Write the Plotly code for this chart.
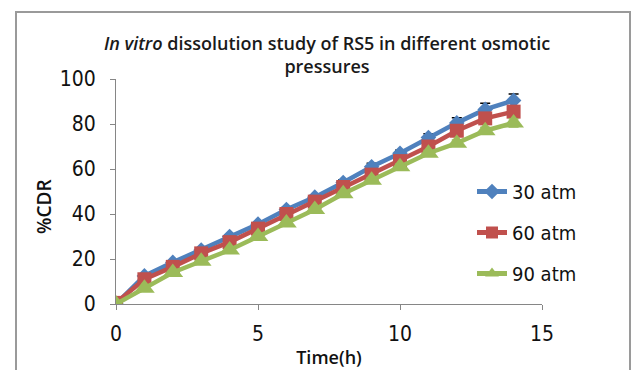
import plotly.graph_objects as go

time_h = list(range(15))
cdr_30 = [0, 12.5, 18.5, 24, 30, 35.5, 42, 47.5, 54, 61, 67, 74, 80.5, 86.5, 90.5]
err_30 = [0, 0.5, 0.6, 0.6, 0.8, 0.8, 0.9, 0.9, 1.2, 1.6, 1.3, 1.7, 2.3, 2.7, 2.8]
cdr_60 = [0.5, 11, 16.5, 22.5, 27.5, 33.5, 40, 45.5, 52, 57.5, 63.5, 70, 77, 82.5, 85.5]
err_60 = [0, 0.5, 0.5, 0.6, 0.7, 0.8, 0.8, 0.9, 1.0, 1.2, 1.3, 1.5, 1.8, 2.0, 2.2]
cdr_90 = [0, 7, 14, 19, 24, 30, 36, 42, 49, 55, 61, 67, 71.5, 77, 80.5]
err_90 = [0, 0.4, 0.5, 0.5, 0.6, 0.7, 0.8, 0.8, 0.9, 1.0, 1.1, 1.2, 1.4, 1.6, 1.8]
series_names = ["30 atm", "60 atm", "90 atm"]
x_ticks = [0, 5, 10, 15]
y_ticks = [0, 20, 40, 60, 80, 100]

W, H = 633, 370
ML, MR, MT, MB = 116, 91, 79, 66
PW, PH = W - ML - MR, H - MT - MB

def px_x(p):
    return (p - ML) / PW

def px_y(p):
    return (H - MB - p) / PH

NARROW = "DejaVu Sans Condensed, DejaVu Sans, sans-serif"
HUMAN = "Open Sans, Lato, sans-serif"

fig = go.Figure()
styles = [
    (cdr_30, err_30, "#4F81BD", "diamond", 12, "black"),
    (cdr_60, err_60, "#C0504D", "square", 14, "#C0504D"),
    (cdr_90, err_90, "#9BBB59", "triangle-up", 18, "#9BBB59"),
]
for name, (vals, errs, col, sym, sz, ecol) in zip(series_names, styles):
    fig.add_trace(go.Scatter(
        x=time_h, y=vals, name=name,
        mode="lines+markers", legendgroup=name,
        line=dict(color=col, width=4.5),
        marker=dict(color=col, symbol=sym, size=sz),
        error_y=dict(type="data", array=errs, visible=True, color=ecol,
                     thickness=1.5, width=5),
    ))

axis_col = "#868686"
fig.update_layout(
    width=W, height=H,
    margin=dict(l=ML, r=MR, t=MT, b=MB, autoexpand=False),
    paper_bgcolor="white", plot_bgcolor="white",
    showlegend=True,
    legend=dict(x=px_x(472), y=px_y(172), xanchor="left", yanchor="top",
                font=dict(family=NARROW, size=20, color="#111"),
                tracegroupgap=12, bgcolor="rgba(0,0,0,0)", itemsizing="constant"),
    title=dict(text="<i>In vitro</i> dissolution study of RS5 in different osmotic<br>pressures",
               x=327 / W, xanchor="center", y=1 - 50 / H, yanchor="top",
               font=dict(family=HUMAN, size=18, color="#1a1a1a", weight=600)),
    xaxis=dict(range=[0, 15], tickvals=x_ticks, showgrid=False, zeroline=False,
               showline=True, linecolor=axis_col, linewidth=1, automargin=False,
               ticks="outside", ticklen=5, tickcolor=axis_col,
               ticklabelstandoff=6,
               tickfont=dict(family=NARROW, size=21, color="#111"),
               title=dict(text="Time(h)", standoff=6,
                          font=dict(family=HUMAN, size=18, color="#111", weight=600))),
    yaxis=dict(range=[0, 100], tickvals=y_ticks, showgrid=False, zeroline=False,
               showline=True, linecolor=axis_col, linewidth=1, automargin=False,
               ticks="outside", ticklen=5, tickcolor=axis_col,
               ticklabelstandoff=10,
               tickfont=dict(family=NARROW, size=21, color="#111")),
    annotations=[dict(text="%CDR", textangle=-90, xref="paper", yref="paper",
                      x=px_x(44), y=px_y(207), showarrow=False,
                      xanchor="center", yanchor="middle",
                      font=dict(family=HUMAN, size=19, color="#111", weight=600))],
    shapes=[dict(type="rect", xref="paper", yref="paper",
                 x0=px_x(16), x1=px_x(630), y0=px_y(375), y1=px_y(12),
                 line=dict(color="#9a9a9a", width=2), layer="above")],
)

fig.write_html("out.html")
